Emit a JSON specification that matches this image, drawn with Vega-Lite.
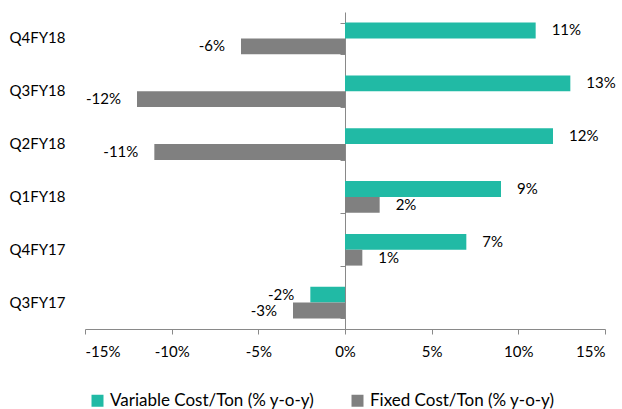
{
  "$schema": "https://vega.github.io/schema/vega-lite/v6.json",
  "width": 520,
  "height": 317,
  "autosize": {"type": "none"},
  "padding": {"left": 85, "top": 12, "right": 17, "bottom": 80},
  "background": "white",
  "config": {
    "font": "Lato",
    "locale": {"number": {"decimal": ".", "thousands": ",", "grouping": [3], "currency": ["$", ""], "minus": "-"}},
    "view": {"stroke": null},
    "axis": {"labelFont": "Lato", "labelFontSize": 15, "labelColor": "#000000", "domainColor": "#898989", "tickColor": "#898989", "grid": false, "title": null}
  },
  "data": {
    "values": [
      {"quarter": "Q4FY18", "series": "Variable Cost/Ton (% y-o-y)", "value": 0.11},
      {"quarter": "Q4FY18", "series": "Fixed Cost/Ton (% y-o-y)", "value": -0.06},
      {"quarter": "Q3FY18", "series": "Variable Cost/Ton (% y-o-y)", "value": 0.13},
      {"quarter": "Q3FY18", "series": "Fixed Cost/Ton (% y-o-y)", "value": -0.12},
      {"quarter": "Q2FY18", "series": "Variable Cost/Ton (% y-o-y)", "value": 0.12},
      {"quarter": "Q2FY18", "series": "Fixed Cost/Ton (% y-o-y)", "value": -0.11},
      {"quarter": "Q1FY18", "series": "Variable Cost/Ton (% y-o-y)", "value": 0.09},
      {"quarter": "Q1FY18", "series": "Fixed Cost/Ton (% y-o-y)", "value": 0.02},
      {"quarter": "Q4FY17", "series": "Variable Cost/Ton (% y-o-y)", "value": 0.07},
      {"quarter": "Q4FY17", "series": "Fixed Cost/Ton (% y-o-y)", "value": 0.01},
      {"quarter": "Q3FY17", "series": "Variable Cost/Ton (% y-o-y)", "value": -0.02},
      {"quarter": "Q3FY17", "series": "Fixed Cost/Ton (% y-o-y)", "value": -0.03}
    ]
  },
  "encoding": {
    "y": {
      "field": "quarter",
      "type": "nominal",
      "sort": ["Q4FY18", "Q3FY18", "Q2FY18", "Q1FY18", "Q4FY17", "Q3FY17"],
      "scale": {"paddingInner": 0.4, "paddingOuter": 0.2}
    },
    "yOffset": {
      "field": "series",
      "type": "nominal",
      "sort": ["Variable Cost/Ton (% y-o-y)", "Fixed Cost/Ton (% y-o-y)"]
    },
    "x": {
      "field": "value",
      "type": "quantitative",
      "scale": {"domain": [-0.15, 0.15], "nice": false, "zero": false},
      "axis": {"values": [-0.15, -0.1, -0.05, 0, 0.05, 0.1, 0.15], "format": ".0%", "tickSize": 5, "labelPadding": 10}
    }
  },
  "layer": [
    {
      "mark": {"type": "bar"},
      "encoding": {
        "y": {
          "field": "quarter",
          "type": "nominal",
          "sort": ["Q4FY18", "Q3FY18", "Q2FY18", "Q1FY18", "Q4FY17", "Q3FY17"],
          "axis": {"domain": false, "ticks": false, "labelPadding": 20, "orient": "left"}
        },
        "color": {
          "field": "series",
          "type": "nominal",
          "sort": ["Variable Cost/Ton (% y-o-y)", "Fixed Cost/Ton (% y-o-y)"],
          "scale": {"range": ["#21BAA5", "#808080"]},
          "legend": {
            "orient": "bottom",
            "direction": "horizontal",
            "title": null,
            "symbolType": "square",
            "symbolSize": 144,
            "symbolStrokeWidth": 0,
            "labelFont": "Lato",
            "labelFontSize": 17,
            "labelColor": "#000000",
            "labelLimit": 0,
            "labelOffset": 4,
            "columnPadding": 34,
            "offset": 29,
            "padding": 4
          }
        }
      }
    },
    {
      "mark": {
        "type": "text",
        "fontSize": 15,
        "font": "Lato",
        "color": "#000000",
        "baseline": "middle",
        "align": {"expr": "datum.value < 0 ? 'right' : 'left'"},
        "dx": {"expr": "datum.value < 0 ? -16 : 16"}
      },
      "encoding": {
        "y": {
          "field": "quarter",
          "type": "nominal",
          "sort": ["Q4FY18", "Q3FY18", "Q2FY18", "Q1FY18", "Q4FY17", "Q3FY17"],
          "axis": {"orient": "left", "offset": -260, "labels": false, "domain": true, "ticks": true, "tickSize": 5, "tickBand": "extent"}
        },
        "text": {"field": "value", "type": "quantitative", "format": ".0%"}
      }
    }
  ],
  "resolve": {"axis": {"y": "independent"}}
}
